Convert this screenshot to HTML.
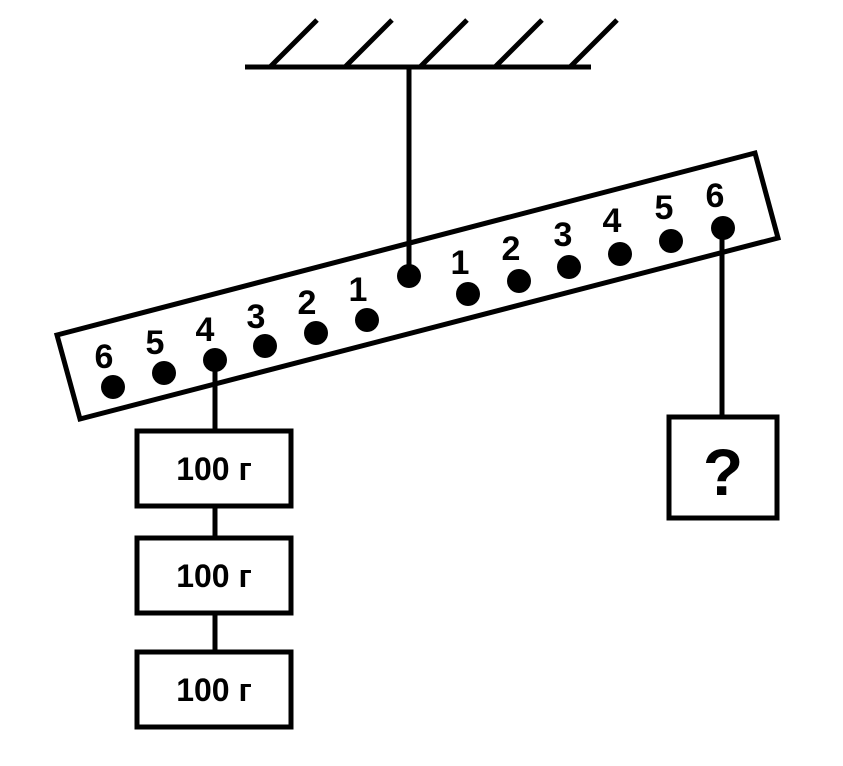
<!DOCTYPE html>
<html><head><meta charset="utf-8"><style>body{margin:0;background:#fff}</style></head><body>
<svg width="843" height="761" viewBox="0 0 843 761" xmlns="http://www.w3.org/2000/svg" font-family="Liberation Sans, sans-serif" font-weight="bold">
<g stroke="#000" stroke-width="5" fill="none">
<line x1="245" y1="67" x2="591" y2="67"/>
<line x1="270" y1="67" x2="317" y2="20"/>
<line x1="345" y1="67" x2="392" y2="20"/>
<line x1="420" y1="67" x2="467" y2="20"/>
<line x1="495" y1="67" x2="542" y2="20"/>
<line x1="570" y1="67" x2="617" y2="20"/>
<line x1="409" y1="67" x2="409" y2="276"/>
<polygon points="57,335 755,153 778,238 80,419"/>
<line x1="215" y1="360" x2="215" y2="690"/>
<line x1="722" y1="228" x2="722" y2="417"/>
<rect x="137" y="431" width="154" height="75" fill="#fff"/>
<rect x="137" y="538" width="154" height="75" fill="#fff"/>
<rect x="137" y="652" width="154" height="75" fill="#fff"/>
<rect x="669" y="417" width="108" height="101" fill="#fff"/>
</g>
<g fill="#000">
<circle cx="113" cy="387" r="12"/><circle cx="164" cy="373" r="12"/><circle cx="215" cy="360" r="12"/>
<circle cx="265" cy="346" r="12"/><circle cx="316" cy="333" r="12"/><circle cx="367" cy="320" r="12"/>
<circle cx="409" cy="276" r="12"/>
<circle cx="468" cy="294" r="12"/><circle cx="519" cy="281" r="12"/><circle cx="569" cy="267" r="12"/>
<circle cx="620" cy="254" r="12"/><circle cx="671" cy="241" r="12"/><circle cx="723" cy="228" r="12"/>
</g>
<g font-size="34" text-anchor="middle" fill="#000">
<text x="104" y="368">6</text><text x="155" y="354">5</text><text x="205" y="341">4</text>
<text x="256" y="328">3</text><text x="307" y="314">2</text><text x="358" y="301">1</text>
<text x="460" y="274">1</text><text x="511" y="260">2</text><text x="563" y="246">3</text>
<text x="612" y="232">4</text><text x="664" y="219">5</text><text x="715" y="207">6</text>
</g>
<g font-size="32" text-anchor="middle" fill="#000">
<text x="214" y="480">100 г</text>
<text x="214" y="587">100 г</text>
<text x="214" y="701">100 г</text>
<text x="723" y="495" font-size="66">?</text>
</g>
</svg>
</body></html>
